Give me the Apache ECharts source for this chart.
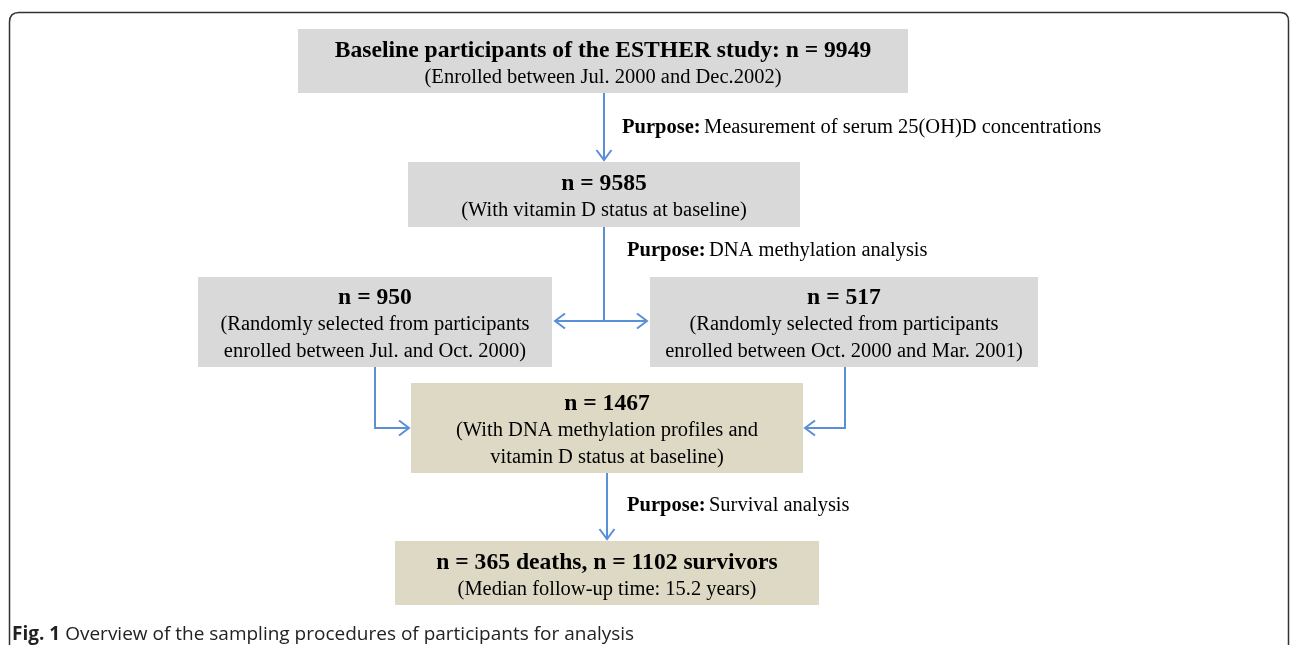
<!DOCTYPE html>
<html>
<head>
<meta charset="utf-8">
<script src="https://cdn.jsdelivr.net/npm/echarts@6/dist/echarts.min.js"></script>
<style>
  html, body { margin: 0; padding: 0; background: #fff; }
  #main { width: 1290px; height: 645px; }
</style>
</head>
<body>
<div id="main"></div>
<script>
// flowchart content
var boxTitles = [
    'Baseline participants of the ESTHER study: n = 9949',
    'n = 9585',
    'n = 950',
    'n = 517',
    'n = 1467',
    'n = 365 deaths, n = 1102 survivors'
];
var boxNotes = [
    ['(Enrolled between Jul. 2000 and Dec.2002)'],
    ['(With vitamin D status at baseline)'],
    ['(Randomly selected from participants', 'enrolled between Jul. and Oct. 2000)'],
    ['(Randomly selected from participants', 'enrolled between Oct. 2000 and Mar. 2001)'],
    ['(With DNA methylation profiles and', 'vitamin D status at baseline)'],
    ['(Median follow-up time: 15.2 years)']
];
var purposeTexts = [
    'Measurement of serum 25(OH)D concentrations',
    'DNA methylation analysis',
    'Survival analysis'
];
var captionText = 'Overview of the sampling procedures of participants for analysis';

// layout in page pixels: [left, top, right, bottom]
var boxRects = [
    [298, 29, 908, 93],
    [408, 162, 800, 227],
    [198, 277, 552, 367],
    [650, 277, 1038, 367],
    [411, 383, 803, 473],
    [395, 541, 819, 605]
];
var boxFill = ['#d9d9d9', '#d9d9d9', '#d9d9d9', '#d9d9d9', '#ddd9c4', '#ddd9c4'];
var purposePos = [[622, 128], [627, 251], [627, 506]];
// arrow paths, last point is the arrow tip
var arrowPaths = [
    [[604, 93], [604, 160]],
    [[604, 227], [604, 321], [555, 321]],
    [[604, 321], [647, 321]],
    [[375, 367], [375, 428], [409, 428]],
    [[845, 367], [845, 428], [805, 428]],
    [[607, 473], [607, 539]]
];

var myChart = echarts.init(document.getElementById('main'));
var serif = '"Liberation Serif", "Times New Roman", serif';
var sans = '"Open Sans", "Noto Sans", sans-serif';
var blue = '#5b8fd6';

function boxItem(params, api) {
    var i = params.dataIndex;
    var r = boxRects[i];
    var p0 = api.coord([r[0], r[1]]);
    var p1 = api.coord([r[2], r[3]]);
    var lines = '{b|' + boxTitles[i] + '}';
    for (var k = 0; k < boxNotes[i].length; k++) {
        lines += '\n{n|' + boxNotes[i][k] + '}';
    }
    return {
        type: 'group',
        children: [{
            type: 'rect',
            shape: { x: p0[0], y: p0[1], width: p1[0] - p0[0], height: p1[1] - p0[1] },
            style: { fill: boxFill[i] }
        }, {
            type: 'text',
            x: (p0[0] + p1[0]) / 2,
            y: (p0[1] + p1[1]) / 2 + 3,
            style: {
                text: lines,
                align: 'center',
                verticalAlign: 'middle',
                fill: '#000',
                rich: {
                    b: { fontFamily: serif, fontWeight: 'bold', fontSize: 23.6, lineHeight: 27, fill: '#000' },
                    n: { fontFamily: serif, fontSize: 20.5, lineHeight: 27, fill: '#000' }
                }
            }
        }]
    };
}

function arrowItem(params, api) {
    var pts = arrowPaths[params.dataIndex].map(function (p) { return api.coord(p); });
    var a = pts[pts.length - 2], b = pts[pts.length - 1];
    var dx = b[0] - a[0], dy = b[1] - a[1];
    var len = Math.sqrt(dx * dx + dy * dy);
    dx /= len; dy /= len;
    var hl = 10, hw = 7.5;
    var head = [
        [b[0] - dx * hl - dy * hw, b[1] - dy * hl + dx * hw],
        b,
        [b[0] - dx * hl + dy * hw, b[1] - dy * hl - dx * hw]
    ];
    return {
        type: 'group',
        children: [{
            type: 'polyline',
            shape: { points: pts },
            style: { stroke: blue, lineWidth: 2, fill: null }
        }, {
            type: 'polyline',
            shape: { points: head },
            style: { stroke: blue, lineWidth: 2, fill: null }
        }]
    };
}

function purposeItem(params, api) {
    var i = params.dataIndex;
    var p = api.coord(purposePos[i]);
    return {
        type: 'text',
        x: p[0],
        y: p[1],
        style: {
            text: '{b|Purpose:} {n|' + purposeTexts[i] + '}',
            align: 'left',
            verticalAlign: 'middle',
            rich: {
                b: { fontFamily: serif, fontWeight: 'bold', fontSize: 20.5, fill: '#000' },
                n: { fontFamily: serif, fontSize: 20.5, fill: '#000' }
            }
        }
    };
}

function frameItem(params, api) {
    // outer frame, rounded at the top and open at the bottom
    return {
        type: 'path',
        shape: {
            pathData: 'M9.5,700 L9.5,22 Q9.5,12.5 19,12.5 L1280,12.5 Q1288.5,12.5 1288.5,21 L1288.5,700'
        },
        style: { stroke: '#333', lineWidth: 1.5, fill: null }
    };
}

var option = {
    animation: false,
    title: {
        text: '{b|Fig. 1} {n|' + captionText + '}',
        left: 7,
        top: 620,
        textStyle: {
            fontWeight: 'normal',
            rich: {
                b: { fontFamily: sans, fontWeight: 'bold', fontSize: 19, color: '#222' },
                n: { fontFamily: sans, fontWeight: 'normal', fontSize: 19, color: '#222' }
            }
        }
    },
    grid: { left: 0, right: 0, top: 0, bottom: 0 },
    xAxis: { type: 'value', min: 0, max: 1290, show: false },
    yAxis: { type: 'value', min: 0, max: 645, inverse: true, show: false },
    series: [{
        type: 'custom',
        renderItem: frameItem,
        clip: false,
        data: [[0]]
    }, {
        type: 'custom',
        renderItem: boxItem,
        data: boxTitles.map(function (t, i) { return [i]; })
    }, {
        type: 'custom',
        renderItem: arrowItem,
        data: arrowPaths.map(function (t, i) { return [i]; })
    }, {
        type: 'custom',
        renderItem: purposeItem,
        data: purposeTexts.map(function (t, i) { return [i]; })
    }]
};

myChart.setOption(option);
</script>
</body>
</html>
